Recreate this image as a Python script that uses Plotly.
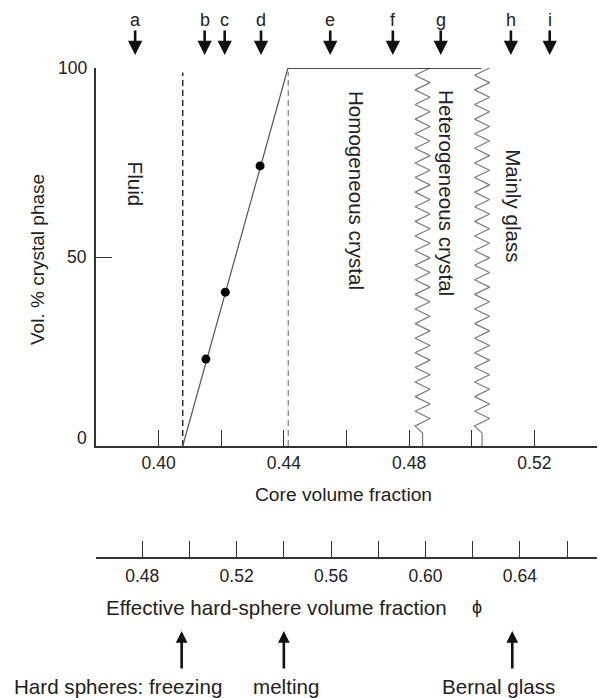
import plotly.graph_objects as go

# ---------------- data ----------------
line_x = [0.4077, 0.4413, 0.5031]          # crystal fraction line (core volume fraction)
line_y = [0, 100, 100]
dot_x = [0.4151, 0.4213, 0.4324]           # measured samples b, c, d
dot_y = [23.0, 40.7, 74.1]
freeze_x = 0.4077                           # dashed boundary (freezing)
melt_x = 0.4414                             # dashed boundary (melting)
zig_x = [0.4843, 0.5033]                    # wavy boundaries (crystal / glass)
letters = ["a", "b", "c", "d", "e", "f", "g", "h", "i"]
letter_x = [0.3925, 0.4147, 0.4211, 0.4327, 0.4548, 0.4748, 0.4901, 0.5125, 0.5249]
core_ticks = [0.38, 0.40, 0.42, 0.44, 0.46, 0.48, 0.50, 0.52, 0.54]
core_labels = ["", "0.40", "", "0.44", "", "0.48", "", "0.52", ""]
y_ticks = [0, 50, 100]
y_labels = ["0", "50", "100"]
hs_ticks = [0.48, 0.50, 0.52, 0.54, 0.56, 0.58, 0.60, 0.62, 0.64, 0.66]
hs_labels = ["0.48", "", "0.52", "", "0.56", "", "0.60", "", "0.64", ""]
regions = ["Fluid", "Homogeneous crystal", "Heterogeneous crystal", "Mainly glass"]
region_x = [0.3926, 0.4634, 0.4921, 0.5131]
region_y = [69.3, 67.7, 66.9, 63.5]
hs_marks = ["Hard spheres: freezing", "melting", "Bernal glass"]
hs_mark_x = [0.4967, 0.5400, 0.6368]

# ---------------- layout helpers ----------------
W, H = 601, 698
def px(p):
    return p / W
def py(p):
    return 1 - p / H

FONT = "Liberation Sans, Arial, Helvetica, sans-serif"
INK = "#222222"
AX = "#333333"

fig = go.Figure()

# wavy boundaries
amp = 0.0024
n_zig = 25
for xc in zig_x:
    xs, ys = [], []
    y_top, y_end = 100.0, 3.4
    step = (y_top - y_end) / (2 * n_zig)
    for k in range(2 * n_zig + 1):
        yv = y_top - k * step
        if k == 2 * n_zig:
            xs.append(xc)
        else:
            xs.append(xc + amp if k % 2 == 0 else xc - amp)
        ys.append(yv)
    xs.append(xc)
    ys.append(0)
    fig.add_trace(go.Scatter(x=xs, y=ys, mode="lines",
                             line=dict(color="#7a7a7a", width=1.2),
                             hoverinfo="skip", showlegend=False))

# dashed boundaries
fig.add_trace(go.Scatter(x=[freeze_x, freeze_x], y=[0, 98.8], mode="lines",
                         line=dict(color="#111111", width=1.3, dash="6px,4px"),
                         showlegend=False))
fig.add_trace(go.Scatter(x=[melt_x, melt_x], y=[0, 99], mode="lines",
                         line=dict(color="#8a8a8a", width=1.3, dash="6px,4px"),
                         showlegend=False))

# crystal fraction line
fig.add_trace(go.Scatter(x=line_x[:2], y=line_y[:2], mode="lines",
                         line=dict(color="#555555", width=1.2), showlegend=False))
fig.add_trace(go.Scatter(x=line_x[1:], y=line_y[1:], mode="lines",
                         line=dict(color="#111111", width=1.4), showlegend=False))
fig.add_trace(go.Scatter(x=dot_x, y=dot_y, mode="markers",
                         marker=dict(color="#000000", size=9), showlegend=False))

# dummy trace on secondary axis
fig.add_trace(go.Scatter(x=[hs_ticks[0]], y=[0], xaxis="x2", yaxis="y2",
                         mode="markers", marker=dict(opacity=0),
                         hoverinfo="skip", showlegend=False))

ann = []
def txt(x, y, t, size, xref="paper", yref="paper", angle=0, xanchor="center", **kw):
    d = dict(x=x, y=y, xref=xref, yref=yref, text=t, textangle=angle,
             showarrow=False, xanchor=xanchor, yanchor="middle",
             font=dict(size=size, color=INK, family=FONT))
    d.update(kw)
    return d

# y tick labels
y_shift = [8, 0, 0]
for v, t, s in zip(y_ticks, y_labels, y_shift):
    ann.append(txt(px(89), v, t, 17.5, yref="y", xanchor="right", yshift=s))
# axis titles
ann.append(txt(px(38), py(260), "Vol. % crystal phase", 19, angle=-90))
ann.append(txt(px(343), py(494), "Core volume fraction", 19.2))
ann.append(txt(px(276.5), py(607), "Effective hard-sphere volume fraction", 20.6))
ann.append(txt(px(477), py(607), "\u03d5", 18))
# region labels
for t, xv, yv in zip(regions, region_x, region_y):
    ann.append(txt(xv, yv, t, 20.6, xref="x", yref="y", angle=90))
# sample letters and arrows
for t, xv in zip(letters, letter_x):
    ann.append(txt(xv, py(20), t, 18, xref="x"))
    ann.append(dict(x=xv, y=py(55), xref="x", yref="paper", text="",
                    showarrow=True, ax=0, ay=-26, arrowhead=2, arrowsize=1.1,
                    arrowwidth=2.6, arrowcolor="#111111", standoff=0))
# hard-sphere markers
label_px = [118, 285.5, 498]
for t, xv, lp in zip(hs_marks, hs_mark_x, label_px):
    ann.append(dict(x=xv, y=py(631), xref="x2", yref="paper", text="",
                    showarrow=True, ax=0, ay=39, arrowhead=2, arrowsize=0.9,
                    arrowwidth=2.6, arrowcolor="#111111", standoff=0))
    ann.append(txt(px(lp), py(686.5), t, 20.6))

fig.update_layout(
    width=W, height=H,
    margin=dict(l=0, r=0, t=0, b=0),
    paper_bgcolor="white", plot_bgcolor="white",
    showlegend=False,
    font=dict(family=FONT, color=INK),
    xaxis=dict(domain=[px(96), px(597)], range=[0.38, 0.54],
               tickvals=core_ticks, ticktext=core_labels,
               ticks="inside", ticklen=16, tickwidth=1.2, tickcolor=AX,
               showline=True, linecolor=AX, linewidth=1.5,
               showgrid=False, zeroline=False, ticklabelstandoff=0,
               tickfont=dict(size=17.5, color=INK, family=FONT)),
    yaxis=dict(domain=[py(446), py(68)], range=[0, 100],
               tickvals=y_ticks, showticklabels=False,
               ticks="inside", ticklen=16, tickwidth=1.2, tickcolor=AX,
               showline=True, linecolor=AX, linewidth=1.5,
               showgrid=False, zeroline=False),
    xaxis2=dict(domain=[px(96), px(597)], range=[0.4604, 0.6727], anchor="y2",
                tickvals=hs_ticks, ticktext=hs_labels,
                ticks="inside", ticklen=16, tickwidth=1.2, tickcolor=AX,
                showline=True, linecolor=AX, linewidth=1.5,
                showgrid=False, zeroline=False, ticklabelstandoff=3,
                tickfont=dict(size=17.5, color=INK, family=FONT)),
    yaxis2=dict(domain=[py(556.7), py(530)], range=[0, 1], visible=False),
    annotations=ann,
)

fig.write_html("out.html")
